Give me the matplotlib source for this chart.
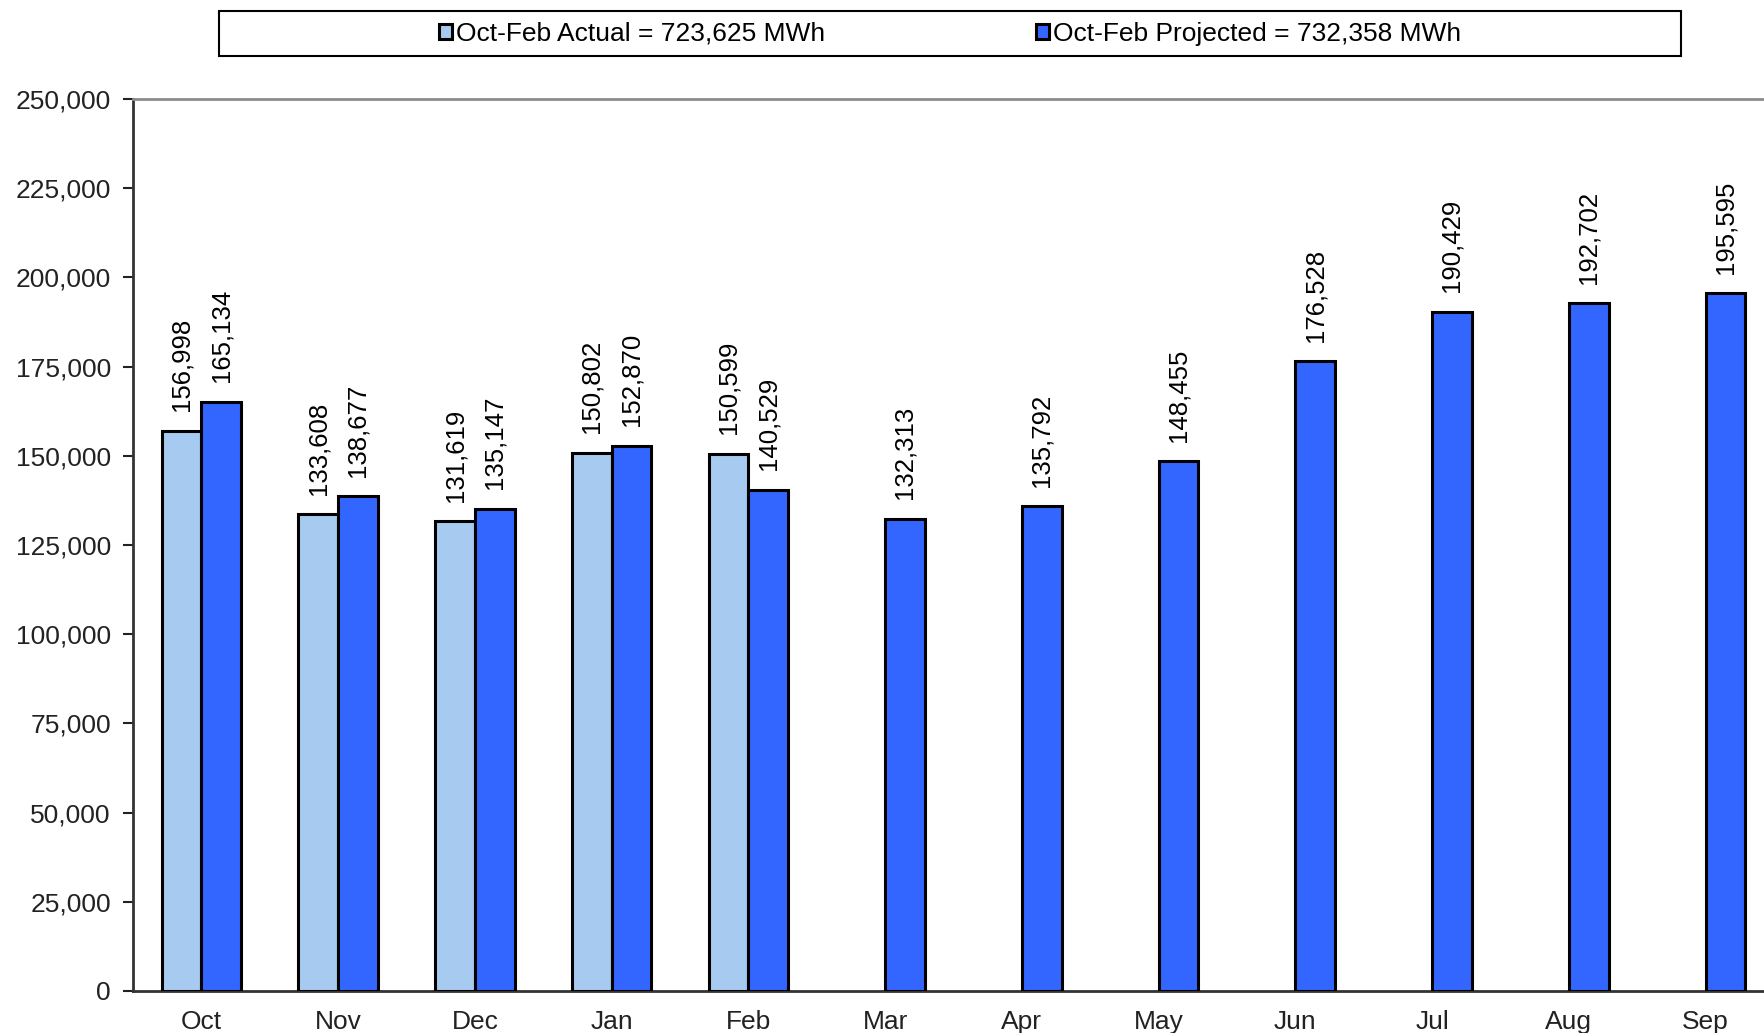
import matplotlib
matplotlib.use("Agg")
import matplotlib.pyplot as plt
from matplotlib.patches import Rectangle
from matplotlib.ticker import FuncFormatter, MultipleLocator

plt.rcParams["font.family"] = ["Liberation Sans", "DejaVu Sans"]

months = ["Oct", "Nov", "Dec", "Jan", "Feb", "Mar", "Apr", "May", "Jun", "Jul", "Aug", "Sep"]
actual = [156998, 133608, 131619, 150802, 150599]
projected = [165134, 138677, 135147, 152870, 140529, 132313, 135792, 148455,
             176528, 190429, 192702, 195595]
actual_label = "Oct-Feb Actual = 723,625 MWh"
projected_label = "Oct-Feb Projected = 732,358 MWh"

light_blue = "#A6CAF0"
blue = "#3366FF"

W, H = 1765, 1033
fig = plt.figure(figsize=(W / 100, H / 100), dpi=100)
left, right, top, bottom = 133, 1774, 99, 991
ax = fig.add_axes([left / W, 1 - bottom / H, (right - left) / W, (bottom - top) / H])

width = 0.29
x_all = list(range(len(months)))
x_act = [i - width / 2 for i in range(len(actual))]
x_proj = [i + width / 2 for i in x_all]

bars_a = ax.bar(x_act, actual, width=width, color=light_blue, edgecolor="black",
                linewidth=2.2, label=actual_label, zorder=3)
bars_p = ax.bar(x_proj, projected, width=width, color=blue, edgecolor="black",
                linewidth=2.2, label=projected_label, zorder=3)

fmt = lambda v: f"{v:,.0f}"
for xs, vals in ((x_act, actual), (x_proj, projected)):
    for xv, v in zip(xs, vals):
        ax.annotate(fmt(v), (xv, v), xytext=(0, 14), textcoords="offset points",
                    rotation=90, ha="center", va="bottom", fontsize=18.5, color="black")

ax.set_xlim(-0.5, len(months) - 0.5)
ax.set_ylim(0, 250000)
ax.yaxis.set_major_locator(MultipleLocator(25000))
ax.yaxis.set_major_formatter(FuncFormatter(lambda v, p: f"{v:,.0f}"))
ax.set_xticks(x_all)
ax.set_xticklabels(months)
ax.tick_params(axis="y", direction="out", length=7, width=1.5, pad=9, labelsize=19,
               colors="#222222")
ax.tick_params(axis="x", length=0, pad=14, labelsize=19, colors="#222222")

for side in ("left", "bottom"):
    ax.spines[side].set_color("#333333")
    ax.spines[side].set_linewidth(2)
ax.spines["top"].set_color("#8c8c8c")
ax.spines["top"].set_linewidth(2)
ax.spines["right"].set_visible(False)

# Legend box across the top of the figure
fig.patches.append(Rectangle((219 / W, 1 - 56 / H), (1681 - 219) / W, 45 / H,
                             transform=fig.transFigure, facecolor="white",
                             edgecolor="black", linewidth=1.5))
fig.legend(handles=[bars_a, bars_p], labels=[actual_label, projected_label],
           loc="center", bbox_to_anchor=(950 / W, 1 - 33.5 / H), ncol=2, frameon=False,
           fontsize=19, handlelength=0.5, handleheight=0.5, handletextpad=0.15,
           columnspacing=8.0)

fig.savefig("out.png", dpi=100)
